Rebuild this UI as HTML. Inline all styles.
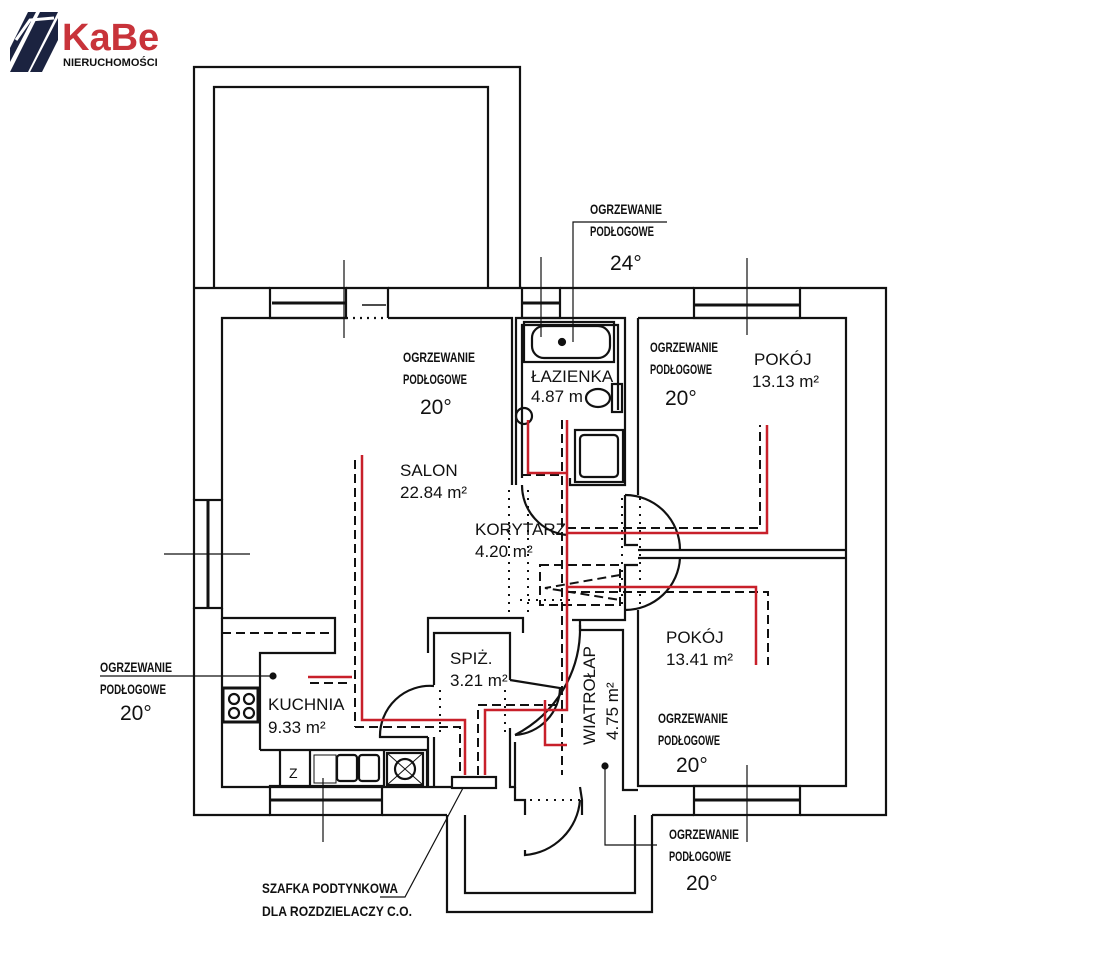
<!DOCTYPE html>
<html><head><meta charset="utf-8"><style>
html,body{margin:0;padding:0;background:#fff;}
svg{display:block;}
text{font-family:"Liberation Sans",sans-serif;fill:#111;}
.n{font-family:"Liberation Sans Narrow","Liberation Sans",sans-serif;}
</style></head><body>
<svg width="1115" height="960" viewBox="0 0 1115 960" xmlns="http://www.w3.org/2000/svg">
<g>
<polygon points="10,72 40,12 58,12 28,72" fill="#1b2340"/>
<polygon points="30,72 58,18 58,40 42,72" fill="#1b2340"/>
<polygon points="10,48 28,12 36,12 10,62" fill="#1b2340"/>
<polyline points="16,40 30,20 54,18" fill="none" stroke="#fff" stroke-width="3"/>
<text x="62" y="50" font-size="38" font-weight="bold" style="fill:#c8333a">KaBe</text>
<text x="63" y="66" font-size="11" font-weight="bold">NIERUCHOMOŚCI</text>
</g>
<g fill="none" stroke="#111" stroke-width="2.2">
<polyline points="194,288 194,67 520,67 520,288"/>
<polyline points="214,288 214,87 488,87 488,288"/>
<polyline points="194,288 270,288"/><polyline points="388,288 522,288"/><polyline points="560,288 694,288"/><polyline points="800,288 886,288 886,815 800,815"/>
<polyline points="694,815 652,815"/><polyline points="447,815 382,815"/><polyline points="270,815 194,815 194,608"/><polyline points="194,500 194,288"/>
<rect x="270" y="288" width="76" height="30"/><line x1="272" y1="303" x2="346" y2="303" stroke-width="3"/>
<polyline points="346,288 388,288 388,318"/><line x1="362" y1="305" x2="386" y2="305" stroke-width="1.5"/>
<line x1="346" y1="318" x2="388" y2="318" stroke-dasharray="2,5"/>
<rect x="522" y="288" width="38" height="30"/><line x1="522" y1="303" x2="560" y2="303" stroke-width="3"/>
<rect x="694" y="288" width="106" height="30"/><line x1="694" y1="305" x2="800" y2="305" stroke-width="3"/>
<rect x="694" y="786" width="106" height="29"/><line x1="694" y1="800" x2="800" y2="800" stroke-width="3"/>
<rect x="270" y="786" width="112" height="29"/><line x1="270" y1="800" x2="382" y2="800" stroke-width="3"/>
<rect x="194" y="500" width="28" height="108"/><line x1="208" y1="500" x2="208" y2="608" stroke-width="3"/>
<polyline points="222,500 222,318 346,318"/><polyline points="388,318 512,318 512,485"/>
<polyline points="222,608 222,618 335,618 335,653 260,653 260,750"/>
<polyline points="222,618 222,787 452,787"/>
<rect x="223" y="688" width="35" height="34" stroke-width="3"/>
<circle cx="234" cy="699" r="5"/><circle cx="249" cy="699" r="5"/><circle cx="234" cy="713" r="5"/><circle cx="249" cy="713" r="5"/>
<polyline points="260,750 427,750 427,787"/>
<line x1="280" y1="750" x2="280" y2="787"/><line x1="310" y1="750" x2="310" y2="787"/><line x1="384" y1="750" x2="384" y2="787"/>
<rect x="314" y="755" width="22" height="28" stroke-width="1"/>
<rect x="337" y="755" width="20" height="26" rx="3"/><rect x="359" y="755" width="20" height="26" rx="3"/>
<rect x="387" y="753" width="36" height="32"/><circle cx="405" cy="769" r="10"/>
<line x1="387" y1="753" x2="423" y2="785" stroke-width="1"/><line x1="423" y1="753" x2="387" y2="785" stroke-width="1"/>
<polyline points="428,653 428,618 523,618 523,633"/>
<polyline points="434,685 434,633 510,633 510,680"/>
<polyline points="428,737 428,787"/><polyline points="434,737 434,787"/>
<path d="M434,686 A50,50 0 0 0 380,737 L428,737"/>
<polyline points="510,728 510,787 515,787 515,742"/>
<path d="M510,680 L560,688 A48,48 0 0 1 515,735"/>
<rect x="452" y="777" width="44" height="11"/>
<polyline points="516,485 516,318 625,318 625,485 570,485 570,478"/>
<polyline points="522,478 522,325 618,325 618,410"/>
<rect x="524" y="322" width="90" height="40"/><rect x="532" y="326" width="78" height="32" rx="12"/>
<circle cx="562" cy="342" r="3" fill="#111"/>
<rect x="575" y="430" width="48" height="52"/><rect x="580" y="435" width="38" height="42" rx="4"/>
<ellipse cx="598" cy="398" rx="12" ry="9"/><rect x="612" y="384" width="10" height="28"/>
<circle cx="524" cy="416" r="8"/>
<path d="M522,485 A50,50 0 0 0 567,535"/>
<polyline points="638,318 638,495"/><polyline points="638,318 846,318 846,786 638,786 638,610"/>
<line x1="638" y1="550" x2="846" y2="550"/><line x1="638" y1="558" x2="846" y2="558"/>
<polyline points="625,495 625,545 638,545"/><polyline points="625,610 625,565 638,565"/>
<path d="M625,495 A55,55 0 0 1 680,550"/><path d="M625,610 A55,55 0 0 0 680,558"/>
<polyline points="580,620 580,630 623,630 623,790 638,790"/>
<polyline points="572,620 625,620 625,610"/>
<path d="M580,625 A120,120 0 0 1 515,735"/>
<polyline points="515,787 515,800 525,800 525,815"/><polyline points="580,787 582,800 582,815"/>
<path d="M525,850 L525,855 A60,60 0 0 0 580,800"/>
<polyline points="447,815 447,912 652,912 652,815"/>
<polyline points="465,815 465,893 635,893 635,815"/>
</g>
<g fill="none" stroke="#111" stroke-width="2" stroke-dasharray="2,6">
<line x1="509" y1="490" x2="509" y2="612"/><line x1="528" y1="490" x2="528" y2="612"/>
<line x1="622" y1="498" x2="622" y2="610"/><line x1="640" y1="498" x2="640" y2="610"/>
<line x1="520" y1="600" x2="572" y2="600"/><line x1="530" y1="800" x2="580" y2="800"/>
<line x1="440" y1="690" x2="440" y2="735"/><line x1="505" y1="690" x2="505" y2="735"/>
</g>
<g fill="none" stroke="#111" stroke-width="2" stroke-dasharray="9,5">
<line x1="222" y1="633" x2="335" y2="633"/><line x1="355" y1="460" x2="355" y2="727"/>
<polyline points="355,727 460,727 460,775"/><line x1="310" y1="683" x2="352" y2="683"/>
<rect x="540" y="565" width="80" height="40"/>
<polyline points="620,575 545,588 620,600"/>
<line x1="562" y1="420" x2="562" y2="775"/>
<polyline points="567,528 760,528 760,425"/><polyline points="567,592 768,592 768,665"/>
<polyline points="478,775 478,705 560,705"/>
<polyline points="522,475 560,475"/>
</g>
<g fill="none" stroke="#c8202a" stroke-width="2.5">
<polyline points="362,455 362,720 465,720 465,775"/><line x1="308" y1="677" x2="352" y2="677"/>
<polyline points="567,420 567,710 485,710 485,775"/>
<polyline points="567,533 767,533 767,425"/>
<polyline points="567,587 756,587 756,665"/>
<polyline points="528,420 528,473 567,473"/>
<polyline points="545,700 545,745 567,745"/>
</g>
<g fill="none" stroke="#111" stroke-width="1.2">
<line x1="344" y1="260" x2="344" y2="338"/><line x1="541" y1="257" x2="541" y2="337"/>
<polyline points="573,342 573,222 667,222"/><line x1="747" y1="258" x2="747" y2="335"/>
<line x1="164" y1="554" x2="250" y2="554"/><line x1="323" y1="778" x2="323" y2="842"/>
<line x1="747" y1="765" x2="747" y2="842"/>
<polyline points="100,676 273,676"/><circle cx="273" cy="676" r="3" fill="#111"/>
<polyline points="605,768 605,845 657,845"/><circle cx="605" cy="766" r="3" fill="#111"/>
<polyline points="380,897 405,897 463,788"/>
</g>
<g class="n" font-size="14" font-weight="bold">
<text x="403" y="362" textLength="72" lengthAdjust="spacingAndGlyphs">OGRZEWANIE</text><text x="403" y="384" textLength="64" lengthAdjust="spacingAndGlyphs">PODŁOGOWE</text>
<text x="590" y="214" textLength="72" lengthAdjust="spacingAndGlyphs">OGRZEWANIE</text><text x="590" y="236" textLength="64" lengthAdjust="spacingAndGlyphs">PODŁOGOWE</text>
<text x="650" y="352" textLength="68" lengthAdjust="spacingAndGlyphs">OGRZEWANIE</text><text x="650" y="374" textLength="62" lengthAdjust="spacingAndGlyphs">PODŁOGOWE</text>
<text x="658" y="723" textLength="70" lengthAdjust="spacingAndGlyphs">OGRZEWANIE</text><text x="658" y="745" textLength="62" lengthAdjust="spacingAndGlyphs">PODŁOGOWE</text>
<text x="100" y="672" textLength="72" lengthAdjust="spacingAndGlyphs">OGRZEWANIE</text><text x="100" y="694" textLength="66" lengthAdjust="spacingAndGlyphs">PODŁOGOWE</text>
<text x="669" y="839" textLength="70" lengthAdjust="spacingAndGlyphs">OGRZEWANIE</text><text x="669" y="861" textLength="62" lengthAdjust="spacingAndGlyphs">PODŁOGOWE</text>
<text x="262" y="893" textLength="136" lengthAdjust="spacingAndGlyphs">SZAFKA PODTYNKOWA</text><text x="262" y="916" textLength="150" lengthAdjust="spacingAndGlyphs">DLA ROZDZIELACZY C.O.</text>
</g>
<g font-size="21">
<text x="420" y="414">20°</text><text x="610" y="270">24°</text><text x="665" y="405">20°</text>
<text x="676" y="772">20°</text><text x="120" y="720">20°</text><text x="686" y="890">20°</text>
</g>
<g font-size="17">
<text x="400" y="476">SALON</text><text x="400" y="498">22.84 m²</text>
<text x="531" y="382">ŁAZIENKA</text><text x="531" y="402">4.87 m</text>
<text x="754" y="365">POKÓJ</text><text x="752" y="387">13.13 m²</text>
<text x="475" y="535">KORYTARZ</text><text x="475" y="557">4.20 m²</text>
<text x="666" y="643">POKÓJ</text><text x="666" y="665">13.41 m²</text>
<text x="268" y="710">KUCHNIA</text><text x="268" y="733">9.33 m²</text>
<text x="450" y="664">SPIŻ.</text><text x="450" y="686">3.21 m²</text>
<text transform="translate(595,745) rotate(-90)">WIATROŁAP</text>
<text transform="translate(618,740) rotate(-90)">4.75 m²</text>
<text x="289" y="778" font-size="14">Z</text>
</g>
</svg>
</body></html>
